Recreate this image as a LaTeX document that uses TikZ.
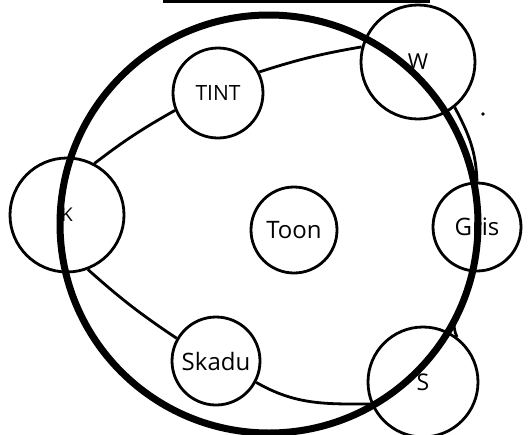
\documentclass[tikz,border=0pt]{standalone}
\usepackage{fontspec}
\setmainfont{Open Sans}
\begin{document}
\begin{tikzpicture}[x=1pt,y=-1pt,
  every node/.style={font=\fontsize{24}{26}\selectfont},
  ring/.style={circle,draw,line width=2.8pt,inner sep=0pt},
  link/.style={draw,line width=2.8pt},
  rim/.style={draw,line width=7pt}]
  \useasboundingbox (0,0) rectangle (529,434);
  % title bar, cut at the top edge
  \draw[line width=6pt] (163,0) -- (430,0);
  % the small circles
  \node[ring,minimum size=90pt,font=\fontsize{21}{23}\selectfont] (tint) at (218,93) {TINT};
  \node[ring,minimum size=114pt,font=\fontsize{22}{24}\selectfont] (w) at (418,62) {W};
  \node[ring,minimum size=114pt,font=\fontsize{19}{21}\selectfont] (k) at (67,215) {K};
  \node[ring,minimum size=86pt] (toon) at (294,230) {Toon};
  \node[ring,minimum size=88pt] (gris) at (477,227) {Gris};
  \node[ring,minimum size=88pt] (skadu) at (216,361) {Skadu};
  \node[ring,minimum size=110pt,font=\fontsize{23}{25}\selectfont] (s) at (423,382) {S};
  % connectors
  \draw[link] (k.62) to[bend left=4] (tint.202);
  \draw[link] (tint.27) to[bend left=4] (w.165);
  \draw[link] (k.-69) to[bend right=4] (skadu.150);
  \draw[link] (skadu.-28) to[out=-30,in=180] (s.203);
  \draw[link] (w.-51) to[out=-62,in=92] (gris.north);
  \draw[link] (gris.-95) to[out=-95,in=115] (s.53);
  \fill (483,114) circle[radius=1.8pt];
  % big circle on top
  \draw[rim] (269,224) circle[radius=209pt];
\end{tikzpicture}
\end{document}
